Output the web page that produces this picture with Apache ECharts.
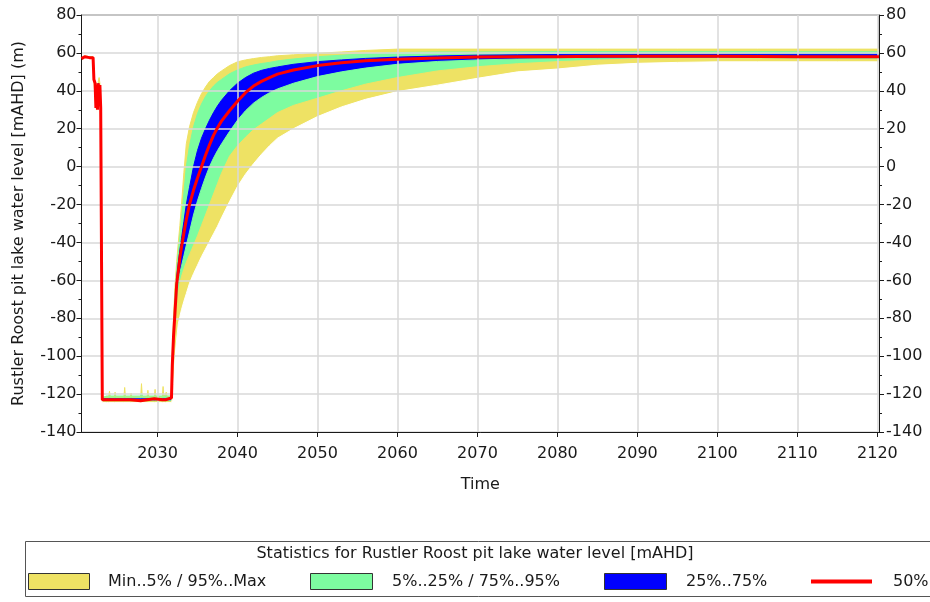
<!DOCTYPE html>
<html>
<head>
<meta charset="utf-8">
<title>Rustler Roost pit lake water level</title>
<script src="https://cdn.jsdelivr.net/npm/echarts@6/dist/echarts.min.js"></script>
<style>
  html, body { margin: 0; padding: 0; background: #ffffff; }
  #chart { width: 930px; height: 602px; }
</style>
</head>
<body>
<div id="chart"></div>
<script>
// Simulation time (decimal years)
const years = [
  2020.5, 2020.9, 2021.5, 2021.95, 2022.05, 2022.2, 2022.3, 2022.4, 2022.5, 2022.6, 2022.7, 2022.8, 2022.9, 2023.0, 2023.1,
  2023.6, 2023.9, 2024.0, 2024.1, 2024.6, 2024.7, 2024.8, 2025.8, 2025.9, 2026.0, 2026.6, 2026.7, 2026.8, 2027.9, 2028.0,
  2028.1, 2028.7, 2028.8, 2028.9, 2029.6, 2029.7, 2029.8, 2030.6, 2030.7, 2030.8, 2031.0, 2031.1, 2031.2, 2031.75,
  2031.85, 2032.0, 2032.2, 2032.4, 2032.6, 2032.8, 2033.0, 2033.3, 2033.6, 2034.0,
  2034.5, 2035.0, 2035.5, 2036.0, 2036.5, 2037.0, 2037.5, 2038, 2039, 2040,
  2041, 2042, 2043, 2044, 2045, 2047, 2050, 2053, 2056, 2060,
  2065, 2070, 2075, 2080, 2085, 2090, 2095, 2100, 2105, 2110,
  2115, 2120.2
];

// Pit lake water level statistics [mAHD], one value per time above
const levelMin = [
  56, 57, 57, 57, 45, 43.5, 29.5, 41.5, 27, 43, 31.5, 41.5, 30, 29.5, -124.5,
  -124.5, -124.5, -124.5, -124.5, -124.5, -124.5, -124.5, -124.5, -124.5, -124.5, -124.5, -124.5, -124.5, -124.5, -124.5,
  -124.5, -124.5, -124.5, -124.5, -124.5, -124.5, -124.5, -124.5, -124.5, -124.5, -124.5, -124.5, -124.5, -124.5,
  -123, -115, -100, -91, -83, -79, -75.5, -71, -67, -61.5,
  -56.5, -52, -47.5, -43.5, -39.5, -35.5, -31.5, -27, -18.5, -10.5,
  -4, 1.5, 6.5, 11, 15, 20, 26.4, 31.5, 35.5, 39.6,
  43, 46.6, 50, 51.5, 53.5, 54.5, 55, 55.3, 55.3, 55.3,
  55.3, 55.3
];
const level5 = [
  56, 57.5, 57, 57, 45, 44, 30, 42, 28, 43, 32, 42, 30.5, 30, -124,
  -124, -124, -124, -124, -124, -124, -124, -124, -124, -124, -124, -124, -124, -124, -124,
  -124, -124, -124, -124, -124, -124, -124, -124, -124, -124, -124, -124, -124, -124,
  -122, -100, -86, -74, -67, -61.5, -58, -54, -50.5, -46.5,
  -41.5, -36.5, -31, -25.5, -20, -14.5, -9, -3.5, 5.5, 11,
  15.5, 19.5, 22.5, 25.5, 28.5, 32.3, 36.1, 40, 43.5, 47,
  50.5, 52.7, 54.3, 55.4, 56.2, 56.8, 57, 57, 56.9, 56.8,
  56.7, 56.7
];
const level25 = [
  56.5, 58, 57.5, 57, 45.5, 44, 30.5, 42, 29.5, 43.5, 32.5, 42.5, 30.5, 30.5, -123.5,
  -123.5, -123.5, -123.5, -123.5, -123.5, -123.5, -123.5, -123.5, -123.5, -123.5, -123.5, -123.5, -123.5, -123.5, -123.5,
  -123.5, -123.5, -123.5, -123.5, -123.5, -123.5, -123.5, -123.5, -123.5, -123.5, -123.5, -123.5, -123.5, -123.5,
  -110, -93, -79, -63, -59.5, -56, -52.5, -47, -41.5, -34.5,
  -25.5, -18, -11.5, -5.5, 0, 4.5, 8.5, 12, 18.5, 24.5,
  29.5, 33.5, 36.5, 39, 41, 44, 47.5, 50, 52, 54,
  55.5, 56.3, 56.8, 57, 57.2, 57.3, 57.3, 57.3, 57.3, 57.2,
  57.2, 57.2
];
const level50 = [
  57, 58, 57.5, 57.5, 46, 44, 31, 43, 30, 44, 33, 43, 31, 31, -123,
  -123, -123, -123, -123.5, -123, -123, -123, -123, -123, -122.5, -123, -123, -123, -123.5, -123,
  -123, -123, -123, -123, -122.5, -123, -123, -123, -123, -123, -123, -123, -122.5, -122,
  -105, -90, -76, -62, -55, -48, -42.5, -35, -28, -20,
  -12.5, -6, 0, 6, 11.5, 16.5, 20.5, 24, 29.5, 34.5,
  39, 42.5, 45, 47, 48.8, 51, 53.3, 54.8, 55.8, 56.6,
  57.3, 57.8, 58, 58, 58.2, 58.3, 58.2, 58.2, 58.1, 58,
  58, 58
];
const level75 = [
  57, 58, 57.5, 57.5, 46, 44.5, 31, 43, 30.5, 44, 33, 43, 31.5, 31, -122.5,
  -122.5, -122.5, -122.5, -122.5, -122.5, -122.5, -122.5, -122.5, -122.5, -122.5, -122.5, -122.5, -122.5, -122.5, -122.5,
  -122.5, -122.5, -122.5, -122.5, -122.5, -122.5, -122.5, -122.5, -122.5, -122.5, -122.5, -122.5, -122.5, -122.5,
  -103, -88, -73, -59, -51, -44, -38, -29, -20, -11,
  0, 8.5, 15, 20, 24.5, 28.5, 32, 35, 40, 44,
  47, 49.3, 50.8, 51.8, 52.6, 54, 55.4, 56.3, 57.1, 57.8,
  58.4, 58.8, 59, 59.2, 59.3, 59.3, 59.3, 59.3, 59.3, 59.3,
  59.3, 59.3
];
const level95 = [
  57.5, 58, 58, 57.5, 46, 44.5, 31.5, 43, 31, 44, 34, 43, 32, 31, -122,
  -121, -121, -120, -121, -121, -120.5, -121, -121, -120, -121, -121, -120.5, -121, -121, -119.5,
  -121, -121, -120, -121, -121, -120, -121, -121, -120, -121, -121, -120.5, -121, -121,
  -100, -84, -68, -54, -45, -37, -28, -14, 0, 11,
  21, 28, 33, 37, 40, 42.5, 44.5, 46, 49, 51,
  52.6, 53.6, 54.4, 55, 55.8, 56.8, 58, 58.8, 59.5, 60.2,
  60.5, 60.5, 60.6, 60.7, 60.7, 60.7, 60.7, 60.7, 60.7, 60.6,
  60.6, 60.6
];
const levelMax = [
  57.5, 58.5, 58, 58, 46.5, 45, 32, 44, 32, 45, 47, 44, 33, 31.5, -121.5,
  -121.5, -121.5, -118.5, -121.5, -121.5, -119, -121.5, -121.5, -116.5, -121.5, -121.5, -119.5, -121.5, -121.5, -114.5,
  -121.5, -121.5, -118, -121.5, -121.5, -117.5, -121.5, -121.5, -116, -121.5, -121.5, -119, -121.5, -121,
  -98, -80, -62, -50, -40, -31, -20, -3, 12, 21,
  28.5, 34, 38.5, 42, 45, 47, 49, 50.5, 53.3, 55.3,
  56.3, 57, 57.6, 58, 58.5, 59, 59.8, 60.5, 61.3, 62,
  62, 62, 62, 62, 62, 62, 62, 62, 62, 62,
  62, 62
];

// Axis tick positions
const timeTicks = [2030, 2040, 2050, 2060, 2070, 2080, 2090, 2100, 2110, 2120];
const levelRange = { min: -140, max: 80, step: 20 };

// Legend text
const legendTitle = 'Statistics for Rustler Roost pit lake water level [mAHD]';
const legendLabels = ['Min..5% / 95%..Max', '5%..25% / 75%..95%', '25%..75%', '50%'];

const YELLOW = '#EEE264';
const GREEN = '#7DFCA0';
const BLUE = '#0000FF';
const RED = '#FF0000';
const WHITE = '#FFFFFF';
const FONT = 'DejaVu Sans';
const INK = '#1a1a1a';
const GRID_LINE = '#d9d9d9';

const chart = echarts.init(document.getElementById('chart'));

// Percentile envelopes, painted from the top curve down; each one fills to the
// bottom of the plot, so the next (lower) curve cuts its band out.
const envelopes = [
  { values: levelMax, color: YELLOW },
  { values: level95, color: GREEN },
  { values: level75, color: BLUE },
  { values: level25, color: GREEN },
  { values: level5, color: YELLOW },
  { values: levelMin, color: WHITE }
];

const series = envelopes.map(env => ({
  type: 'line',
  data: years.map((t, i) => [t, env.values[i]]),
  symbol: 'none',
  showSymbol: false,
  lineStyle: { color: env.color, width: 1 },
  areaStyle: { color: env.color, opacity: 1, origin: 'start' },
  silent: true,
  z: 2
}));
series.push({
  type: 'line',
  data: years.map((t, i) => [t, level50[i]]),
  symbol: 'none',
  showSymbol: false,
  lineStyle: { color: RED, width: 3 },
  silent: true,
  z: 5
});

const yAxisCommon = {
  type: 'value',
  min: levelRange.min,
  max: levelRange.max,
  interval: levelRange.step,
  z: 3,
  axisLine: { show: true, onZero: false, lineStyle: { color: INK, width: 1 } },
  axisTick: { show: true, length: 5, lineStyle: { color: INK } },
  minorTick: { show: true, splitNumber: 2, length: 3, lineStyle: { color: INK } },
  axisLabel: { color: INK, fontFamily: FONT, fontSize: 16, formatter: v => String(v) }
};

chart.setOption({
  animation: false,
  backgroundColor: '#ffffff',
  grid: {
    left: 81.5, right: 51, top: 15, bottom: 170,
    show: true, borderColor: INK, borderWidth: 1, backgroundColor: 'transparent'
  },
  xAxis: {
    type: 'value',
    min: 2020.5,
    max: 2120.2,
    z: 3,
    name: 'Time',
    nameLocation: 'middle',
    nameGap: 45,
    nameTextStyle: { color: INK, fontFamily: FONT, fontSize: 16 },
    axisLine: { show: true, onZero: false, lineStyle: { color: INK, width: 1 } },
    axisTick: { show: true, length: 5, customValues: timeTicks, lineStyle: { color: INK } },
    axisLabel: { customValues: timeTicks, margin: 14, color: INK, fontFamily: FONT, fontSize: 16, formatter: v => String(v) },
    splitLine: { show: true, customValues: timeTicks, lineStyle: { color: GRID_LINE, width: 1.5 } }
  },
  yAxis: [
    Object.assign({}, yAxisCommon, {
      position: 'left',
      name: 'Rustler Roost pit lake water level [mAHD] (m)',
      nameLocation: 'middle',
      nameGap: 55,
      nameTextStyle: { color: INK, fontFamily: FONT, fontSize: 16 },
      axisLabel: Object.assign({}, yAxisCommon.axisLabel, { margin: 5 }),
      splitLine: { show: true, lineStyle: { color: GRID_LINE, width: 1.5 } }
    }),
    Object.assign({}, yAxisCommon, {
      position: 'right',
      axisLabel: Object.assign({}, yAxisCommon.axisLabel, { margin: 7 }),
      splitLine: { show: false }
    })
  ],
  series: series,
  graphic: [
    { type: 'rect', z: 10, shape: { x: 25.5, y: 541.5, width: 920, height: 55 },
      style: { fill: '#ffffff', stroke: '#555555', lineWidth: 1 } },
    { type: 'text', z: 11, x: 475, y: 554,
      style: { text: legendTitle, fontFamily: FONT, fontSize: 16, fill: INK, align: 'center', verticalAlign: 'middle' } },
    { type: 'rect', z: 11, shape: { x: 28.5, y: 573.5, width: 61, height: 16 },
      style: { fill: YELLOW, stroke: '#333333', lineWidth: 1 } },
    { type: 'text', z: 11, x: 108, y: 582,
      style: { text: legendLabels[0], fontFamily: FONT, fontSize: 16, fill: INK, align: 'left', verticalAlign: 'middle' } },
    { type: 'rect', z: 11, shape: { x: 310.5, y: 573.5, width: 62, height: 16 },
      style: { fill: GREEN, stroke: '#333333', lineWidth: 1 } },
    { type: 'text', z: 11, x: 392, y: 582,
      style: { text: legendLabels[1], fontFamily: FONT, fontSize: 16, fill: INK, align: 'left', verticalAlign: 'middle' } },
    { type: 'rect', z: 11, shape: { x: 604.5, y: 573.5, width: 62, height: 16 },
      style: { fill: BLUE, stroke: '#333333', lineWidth: 1 } },
    { type: 'text', z: 11, x: 686, y: 582,
      style: { text: legendLabels[2], fontFamily: FONT, fontSize: 16, fill: INK, align: 'left', verticalAlign: 'middle' } },
    { type: 'line', z: 11, shape: { x1: 811, y1: 581.5, x2: 872, y2: 581.5 },
      style: { stroke: RED, lineWidth: 4 } },
    { type: 'text', z: 11, x: 893, y: 582,
      style: { text: legendLabels[3], fontFamily: FONT, fontSize: 16, fill: INK, align: 'left', verticalAlign: 'middle' } }
  ]
});
</script>
</body>
</html>
